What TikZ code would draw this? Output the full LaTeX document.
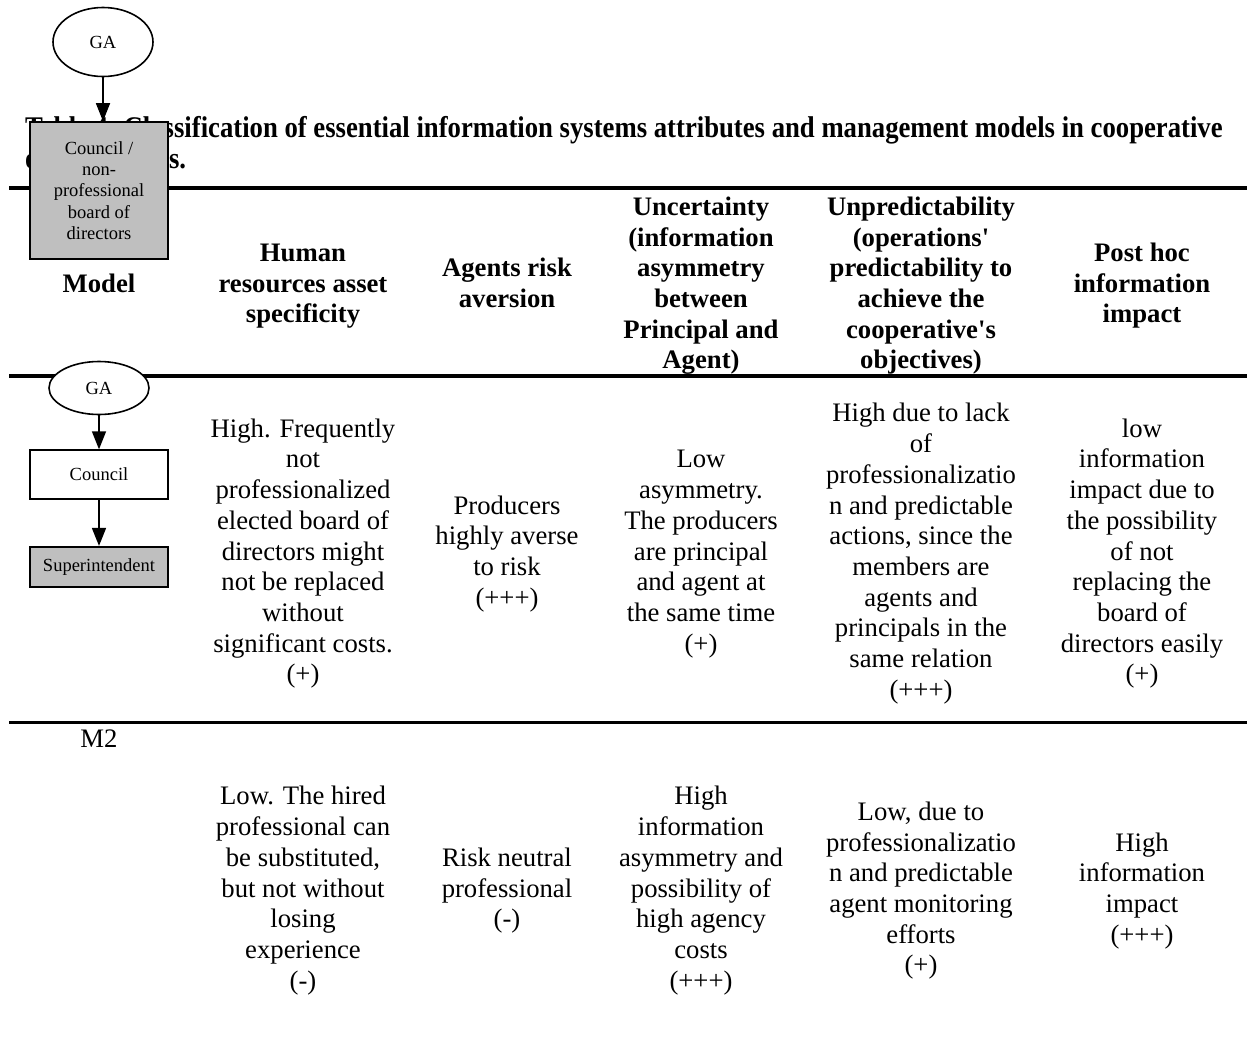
\documentclass[tikz,border=0pt]{standalone}
\usepackage{fontspec}
\setmainfont{Liberation Serif}
\newfontfamily\captionfont[FakeStretch=0.89]{Liberation Serif}
\usetikzlibrary{positioning,arrows.meta,shapes.geometric}

\begin{document}
\begin{tikzpicture}[x=1pt,y=-1pt,
cell/.style={anchor=base,align=center,inner sep=0pt,
  node font=\fontsize{26.7}{30.7}\selectfont},
head/.style={cell,font=\bfseries},
chart/.style={draw=black,line width=1.6pt,align=center,inner sep=2pt,
  node font=\fontsize{18.5}{21.4}\selectfont},
ga/.style={chart,ellipse,fill=white},
unit/.style={chart,rectangle,minimum width=138pt},
grey/.style={fill=black!25},
rule/.style={line width=4.3pt},
flow/.style={line width=1.6pt,-{Triangle[length=18pt,width=14pt]}}
]
\useasboundingbox (0,0) rectangle (1250,1045);

% caption (base = last line)
\node (title) [anchor=base west,align=left,inner sep=0pt,
  font=\captionfont\fontsize{30}{31}\selectfont\bfseries] at (25,168)
  {Table 4. Classification of essential information systems attributes and management models in cooperative\\organizations.};

% rules
\coordinate (r1w) at (9,188);   \coordinate (r1e) at (1247,188);
\coordinate (r2w) at (9,375.7); \coordinate (r2e) at (1247,375.7);
\coordinate (r3w) at (9,722.5); \coordinate (r3e) at (1247,722.5);
\draw [rule] (r1w) -- (r1e);
\draw [rule] (r2w) -- (r2e);
\draw [line width=2.3pt] (r3w) -- (r3e);

% header, placed by the baseline of the last line
\node (hmodel) [head] at (99,292) {Model};
\node (hhuman) [head] at (303,322.7) {Human\\resources asset\\specificity};
\node (hrisk) [head] at (507,307.4) {Agents risk\\aversion};
\node (hunc) [head] at (701,368.8) {Uncertainty\\(information\\asymmetry\\between\\Principal and\\Agent)};
\node (hunp) [head] at (921,368.8) {Unpredictability\\(operations\textquotesingle\\predictability to\\achieve the\\cooperative\textquotesingle s\\objectives)};
\node (hpost) [head] at (1142,322.7) {Post hoc\\information\\impact};

% model 1
\node (aone) [cell] at (303,682.8) {High. Frequently\\not\\professionalized\\elected board of\\directors might\\not be replaced\\without\\significant costs.\\(+)};
\node (bone) [cell] at (507,606.1) {Producers\\highly averse\\to risk\\(+++)};
\node (cone) [cell] at (701,652.1) {Low\\asymmetry.\\The producers\\are principal\\and agent at\\the same time\\(+)};
\node (done) [cell] at (921,698.2) {High due to lack\\of\\professionalizatio\\n and predictable\\actions, since the\\members are\\agents and\\principals in the\\same relation\\(+++)};
\node (eone) [cell] at (1142,682.8) {low\\information\\impact due to\\the possibility\\of not\\replacing the\\board of\\directors easily\\(+)};

% model 2
\node (mtwo) [cell] at (99,747) {M2};
\node (atwo) [cell] at (303,989.1) {Low. The hired\\professional can\\be substituted,\\but not without\\losing\\experience\\(-)};
\node (btwo) [cell] at (507,927.7) {Risk neutral\\professional\\(-)};
\node (ctwo) [cell] at (701,989.1) {High\\information\\asymmetry and\\possibility of\\high agency\\costs\\(+++)};
\node (dtwo) [cell] at (921,973.8) {Low, due to\\professionalizatio\\n and predictable\\agent monitoring\\efforts\\(+)};
\node (etwo) [cell] at (1142,943.1) {High\\information\\impact\\(+++)};

% chart over the header
\node (gaone) [ga,minimum width=100pt,minimum height=69pt] at (103,42) {GA};
\node (board) [unit,grey,minimum height=137pt] at (99,190.5)
  {Council /\\non-\\professional\\board of\\directors};
\draw [flow] (gaone.south) -- (gaone.south |- board.north);

% chart of model 1
\node (gatwo) [ga,minimum width=100pt,minimum height=53pt] at (99,388) {GA};
\node (council) [unit,minimum height=49pt,below=34pt of gatwo] {Council};
\node (super) [unit,grey,minimum height=40pt,below=46pt of council] {Superintendent};
\draw [flow] (gatwo) -- (council);
\draw [flow] (council) -- (super);

\end{tikzpicture}
\end{document}
